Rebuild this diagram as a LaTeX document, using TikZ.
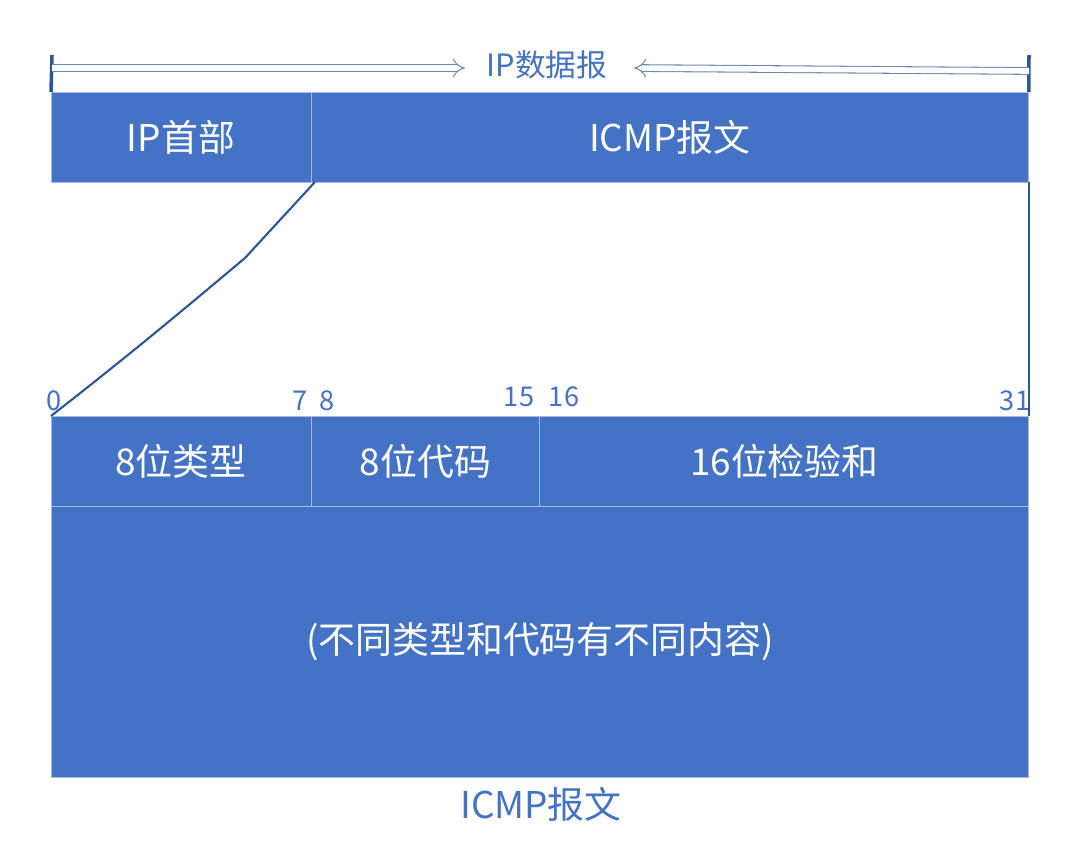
\documentclass[tikz,border=0pt]{standalone}
\usepackage{fontspec}
\setmainfont{Noto Sans CJK SC}
\usetikzlibrary{arrows.meta, positioning}
\definecolor{cellblue}{RGB}{68,114,196}
\definecolor{linkblue}{RGB}{47,85,151}
\definecolor{cellline}{RGB}{170,186,220}

\tikzset{
  cell/.style={draw=cellline, line width=0.5pt, fill=cellblue, text=white,
    inner sep=0pt, outer sep=0pt, minimum height=1.8cm, font=\fontsize{21}{25}\selectfont},
  bitno/.style={text=cellblue, inner sep=0pt, font=\fontsize{15.5}{18}\selectfont},
  link/.style={linkblue, line width=1.2pt},
  span/.style={draw=linkblue!70, line width=0.6pt, double=white, double distance=3.2pt, -{Implies}},
}

\begin{document}
\begin{tikzpicture}[x=0.02cm, y=-0.02cm]
  \useasboundingbox (0,0) rectangle (1092,862);
  % IP datagram
  \node[cell, anchor=north west, minimum width=5.2cm] (ip) at (51,92) {IP首部};
  \node[cell, right=0pt of ip, minimum width=14.36cm] (icmp) {ICMP报文};
  \draw[linkblue, line width=2pt] (52,55) -- (ip.north west);
  \draw[linkblue, line width=2pt] (1029,55) -- (icmp.north east);
  \coordinate (lend) at (52,68);
  \coordinate (rend) at (1029,71);
  \node[text=cellblue, font=\fontsize{17.5}{20}\selectfont] (dgram) at (547,65) {IP数据报};
  \draw[span] (lend) -- (465,68);
  \draw[span] (rend) -- (634,68);
  % ICMP message
  \node[cell, anchor=north west, minimum width=5.2cm] (type) at (51,416) {8位类型};
  \node[cell, right=0pt of type, minimum width=4.58cm] (code) {8位代码};
  \node[cell, right=0pt of code, minimum width=9.78cm] (cksum) {16位检验和};
  \node[cell, anchor=north west, minimum width=19.56cm, minimum height=5.44cm] (body)
    at (type.south west) {(不同类型和代码有不同内容)};
  \node[text=cellblue, font=\fontsize{21}{25}\selectfont] (msg) at (541,804) {ICMP报文};
  % bit numbers
  \node[bitno] (b0) at (54,401) {0};
  \node[bitno] (b7) at (300,401) {7};
  \node[bitno] (b8) at (327,401) {8};
  \node[bitno] (b15) at (519,397) {15};
  \node[bitno] (b16) at (564,397) {16};
  \node[bitno] (b31) at (1015,401) {31};
  % zoom lines
  \draw[link] (icmp.south west) ++(4,0) -- (245,258) to[out=220, in=38] (type.north west);
  \draw[link] (icmp.south east) -- (cksum.north east);
\end{tikzpicture}
\end{document}
